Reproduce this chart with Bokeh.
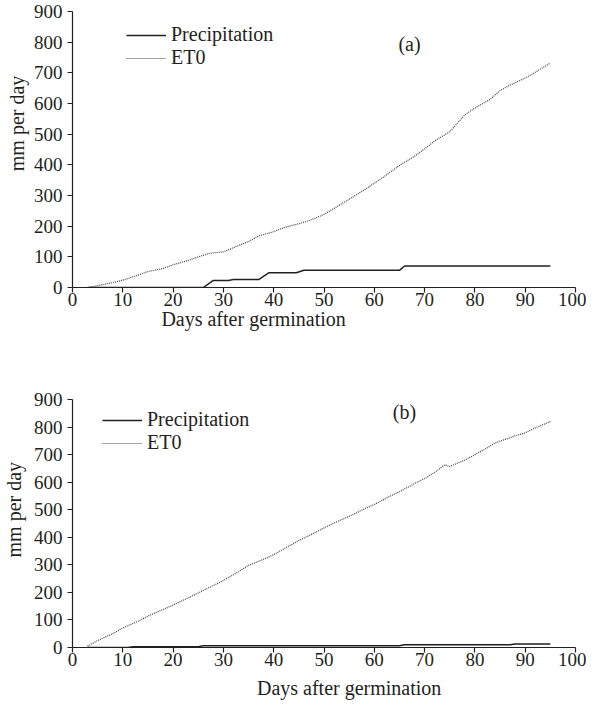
from bokeh.plotting import figure
from bokeh.models import Range1d, Legend, LegendItem, Label, FixedTicker, LinearAxis
from bokeh.layouts import column
from bokeh.embed import file_html
from bokeh.resources import INLINE

# ---------------- data: panel (a) ----------------
et0_a_days = [3, 5, 8, 10, 13, 15, 18, 20, 23, 25, 27, 28, 30, 32, 35, 37, 40, 42, 45,
              47, 50, 52, 55, 58, 60, 62, 65, 68, 70, 72, 75, 78, 80, 83, 85, 87, 90, 92, 95]
et0_a_vals = [0, 6, 16, 24, 40, 52, 62, 74, 88, 100, 110, 113, 116, 130, 150, 168, 182, 195, 208,
              218, 238, 258, 288, 318, 340, 362, 398, 428, 452, 478, 508, 563, 585, 613, 642, 660, 683, 702, 732]
prec_a_days = [3, 26, 28, 31, 32, 37, 39, 44.5, 46, 65, 66, 95]
prec_a_vals = [0, 0, 23, 23, 26, 26, 48, 48, 56, 56, 70, 70]

# ---------------- data: panel (b) ----------------
et0_b_days = [3, 5, 8, 10, 13, 15, 18, 20, 23, 25, 28, 30, 33, 35, 38, 40, 43, 45, 48, 50,
              53, 55, 58, 60, 63, 65, 68, 70, 72, 74, 75, 78, 80, 82, 84, 86, 88, 90, 92, 95]
et0_b_vals = [5, 25, 50, 71, 95, 114, 138, 154, 180, 198, 225, 243, 275, 298, 320, 337, 368, 388, 415, 434,
              460, 476, 503, 519, 548, 565, 595, 613, 635, 663, 657, 680, 700, 720, 742, 755, 768, 779, 797, 820]
prec_b_days = [3, 11, 12, 25, 26, 65, 66, 87, 88, 95]
prec_b_vals = [0, 0, 3, 3, 6, 6, 10, 10, 13, 13]

x_ticks = [0, 10, 20, 30, 40, 50, 60, 70, 80, 90, 100]
y_ticks = [0, 100, 200, 300, 400, 500, 600, 700, 800, 900]
x_title = "Days after germination"
y_title = "mm per day"
series_names = ["Precipitation", "ET0"]

FONT = "Liberation Serif"
INK = "#231f20"


def title_axis(side, pos, text, standoff):
    """An extra, line-less axis whose single tick label carries the axis title,
    so the title can sit off-centre as it does in the reference."""
    ax = LinearAxis(ticker=FixedTicker(ticks=[pos]), major_label_overrides={pos: text})
    ax.axis_line_color = None
    ax.major_tick_line_color = None
    ax.minor_tick_line_color = None
    ax.major_tick_out = 0
    ax.major_tick_in = 0
    ax.minor_tick_out = 0
    ax.minor_tick_in = 0
    ax.major_label_standoff = standoff
    ax.major_label_text_font = FONT
    ax.major_label_text_font_size = "20px"
    ax.major_label_text_color = INK
    if side == "left":
        ax.major_label_orientation = "parallel"
    return ax


def panel(et_d, et_v, pr_d, pr_v, tag, height, borders, legend_loc,
          tag_xy, xt_pos, xt_off, yt_pos, yt_off):
    bl, bt, br, bb = borders
    p = figure(width=586, height=height, output_backend="svg", toolbar_location=None,
               x_range=Range1d(0, 100), y_range=Range1d(0, 900),
               min_border_left=bl, min_border_top=bt, min_border_right=br, min_border_bottom=bb)
    p.outline_line_color = None
    p.grid.visible = False
    p.background_fill_color = "white"
    for ax in (p.xaxis[0], p.yaxis[0]):
        ax.axis_line_color = INK
        ax.axis_line_width = 1.2
        ax.major_tick_line_color = INK
        ax.major_tick_line_width = 1.2
        ax.major_tick_out = 5
        ax.major_tick_in = 0
        ax.minor_tick_line_color = None
        ax.major_label_text_font = FONT
        ax.major_label_text_font_size = "19px"
        ax.major_label_text_color = INK
    p.xaxis[0].major_label_standoff = 0
    p.yaxis[0].major_label_standoff = 5
    p.xaxis[0].ticker = FixedTicker(ticks=x_ticks)
    p.yaxis[0].ticker = FixedTicker(ticks=y_ticks)

    p.add_layout(title_axis("below", xt_pos, x_title, xt_off), "below")
    p.add_layout(title_axis("left", yt_pos, y_title, yt_off), "left")

    r_pr = p.line(pr_d, pr_v, line_color=INK, line_width=1.5)
    r_et = p.line(et_d, et_v, line_color="#444444", line_width=1.2, line_dash="1 1")

    leg = Legend(items=[LegendItem(label=series_names[0], renderers=[r_pr]),
                        LegendItem(label=series_names[1], renderers=[r_et])],
                 location=legend_loc, glyph_width=40, glyph_height=20, label_standoff=5,
                 label_height=20, spacing=0, padding=0, margin=0, border_line_color=None,
                 background_fill_alpha=0, label_text_font=FONT,
                 label_text_font_size="20px", label_text_color=INK)
    p.add_layout(leg)

    p.add_layout(Label(x=tag_xy[0], y=tag_xy[1], text=tag, text_font=FONT,
                       text_font_size="20px", text_color=INK,
                       text_align="center", text_baseline="middle"))
    return p


p1 = panel(et0_a_days, et0_a_vals, prec_a_days, prec_a_vals, "(a)",
           340, (64, 11, 11, 53), (54, 218), (67, 795), 36, -1, 535, 2)
p2 = panel(et0_b_days, et0_b_vals, prec_b_days, prec_b_vals, "(b)",
           363, (68, 59, 7, 56), (30, 193), (66, 855), 55, 8, 500, 5)

layout = column(p1, p2, spacing=0)
open("out.html", "w").write(file_html(layout, INLINE))
